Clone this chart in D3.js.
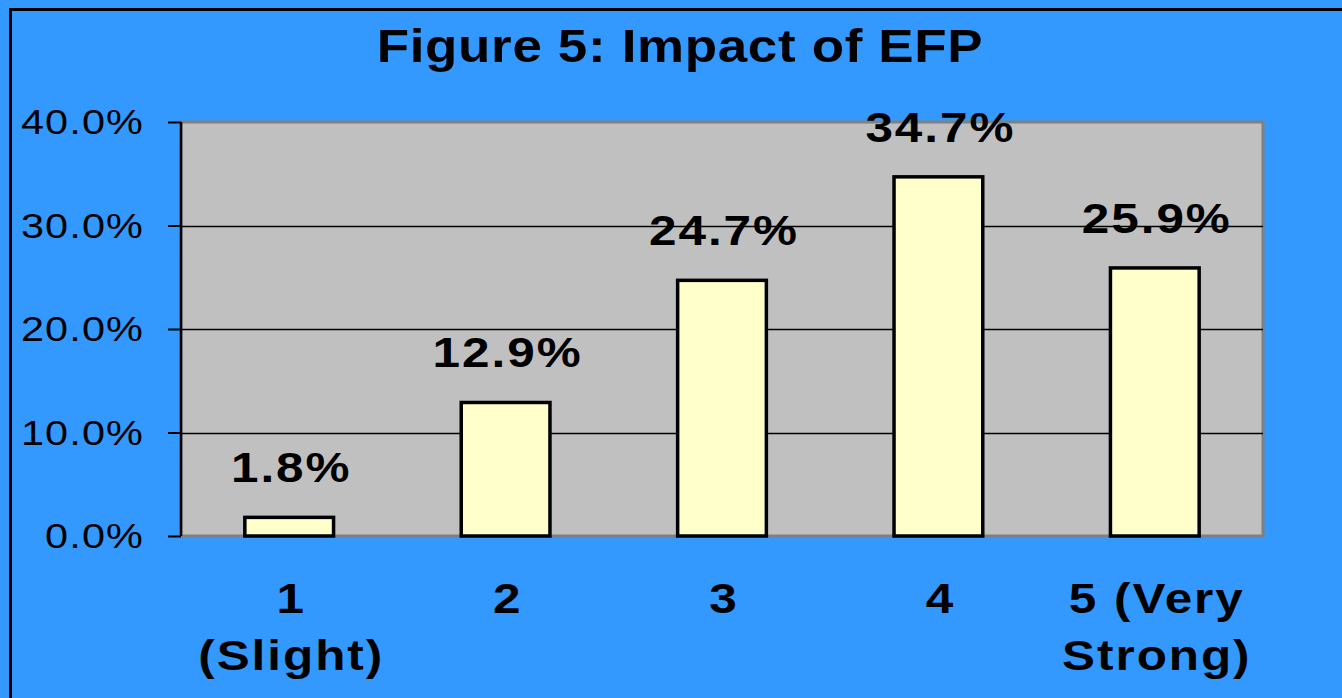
<!DOCTYPE html>
<html>
<head>
<meta charset="utf-8">
<script src="https://cdn.jsdelivr.net/npm/d3@7"></script>
<style>
  html, body { margin: 0; padding: 0; background: #3399FF; overflow: hidden; }
  svg { display: block; }
</style>
</head>
<body>
<svg id="chart" width="1342" height="698"></svg>
<script>
const title = "Figure 5: Impact of EFP";
const categories = ["1", "2", "3", "4", "5"];
const categoryLabels = [["1", "(Slight)"], ["2"], ["3"], ["4"], ["5 (Very", "Strong)"]];
const values = [0.018, 0.129, 0.247, 0.347, 0.259];
const valueLabels = ["1.8%", "12.9%", "24.7%", "34.7%", "25.9%"];
const yTicks = [0, 0.1, 0.2, 0.3, 0.4];

const W = 1342, H = 698;
const plot = { left: 181, right: 1263, top: 122, bottom: 536 };
const font = "'Liberation Sans', Arial, Helvetica, sans-serif";
const SX = 1.15; // horizontal stretch of the text glyphs

const svg = d3.select("#chart");

svg.append("rect").attr("x", 0).attr("y", 0).attr("width", W).attr("height", H).attr("fill", "#3399FF");
svg.append("rect").attr("x", 10.5).attr("y", 9.5).attr("width", W + 20).attr("height", H + 20)
  .attr("fill", "none").attr("stroke", "#000").attr("stroke-width", 3);

const x = d3.scaleBand().domain(categories).range([plot.left, plot.right]).paddingInner(0.59).paddingOuter(0.295);
const y = d3.scaleLinear().domain([0, 0.4]).range([plot.bottom, plot.top]);

svg.append("rect").attr("x", plot.left).attr("y", plot.top)
  .attr("width", plot.right - plot.left).attr("height", plot.bottom - plot.top)
  .attr("fill", "#C0C0C0").attr("stroke", "#808080").attr("stroke-width", 3);

svg.append("g").selectAll("line").data(yTicks.filter(t => t > 0 && t < 0.4)).join("line")
  .attr("x1", plot.left).attr("x2", plot.right)
  .attr("y1", d => Math.round(y(d)) + 0.5).attr("y2", d => Math.round(y(d)) + 0.5)
  .attr("stroke", "#000").attr("stroke-width", 1.3);

const yAxis = d3.axisLeft(y).tickValues(yTicks).tickFormat(d3.format(".1%")).tickSize(13).tickPadding(20);
const ga = svg.append("g").attr("transform", `translate(${plot.left},0)`).call(yAxis);
ga.select(".domain").attr("stroke", "#000").attr("stroke-width", 2.5).attr("d", `M0,${plot.top}V${plot.bottom}`);
ga.selectAll(".tick line").attr("stroke", "#000").attr("stroke-width", 2);
ga.selectAll(".tick text").attr("fill", "#000").style("font-family", font).style("font-size", "36px")
  .style("letter-spacing", "1px").attr("dy", "0.33em").attr("x", -37 / SX)
  .attr("transform", `scale(${SX},1)`);

svg.append("g").selectAll("rect").data(values).join("rect")
  .attr("x", (d, i) => x(categories[i]))
  .attr("y", d => y(d))
  .attr("width", x.bandwidth())
  .attr("height", d => y(0) - y(d))
  .attr("fill", "#FFFFCC").attr("stroke", "#000").attr("stroke-width", 3.5);

svg.append("g").selectAll("text").data(values).join("text")
  .attr("transform", (d, i) => `translate(${x(categories[i]) + x.bandwidth() / 2 + 2},${y(d) - 35}) scale(${SX},1)`)
  .attr("text-anchor", "middle")
  .style("font-family", font).style("font-size", "43px").style("font-weight", "bold")
  .style("letter-spacing", "1.7px")
  .text((d, i) => valueLabels[i]);

const cg = svg.append("g").selectAll("text").data(categories).join("text")
  .attr("transform", d => `translate(${x(d) + x.bandwidth() / 2 + 2},613) scale(${SX},1)`)
  .attr("text-anchor", "middle")
  .style("font-family", font).style("font-size", "43px").style("font-weight", "bold")
  .style("letter-spacing", "1.7px");
cg.selectAll("tspan").data((d, i) => categoryLabels[i]).join("tspan")
  .attr("x", 0)
  .attr("dy", (d, j) => j === 0 ? 0 : 57)
  .text(d => d);

svg.append("text").attr("transform", `translate(680,62) scale(${SX},1)`).attr("text-anchor", "middle")
  .style("font-family", font).style("font-size", "46px").style("font-weight", "bold")
  .style("letter-spacing", "0.6px")
  .text(title);
</script>
</body>
</html>
